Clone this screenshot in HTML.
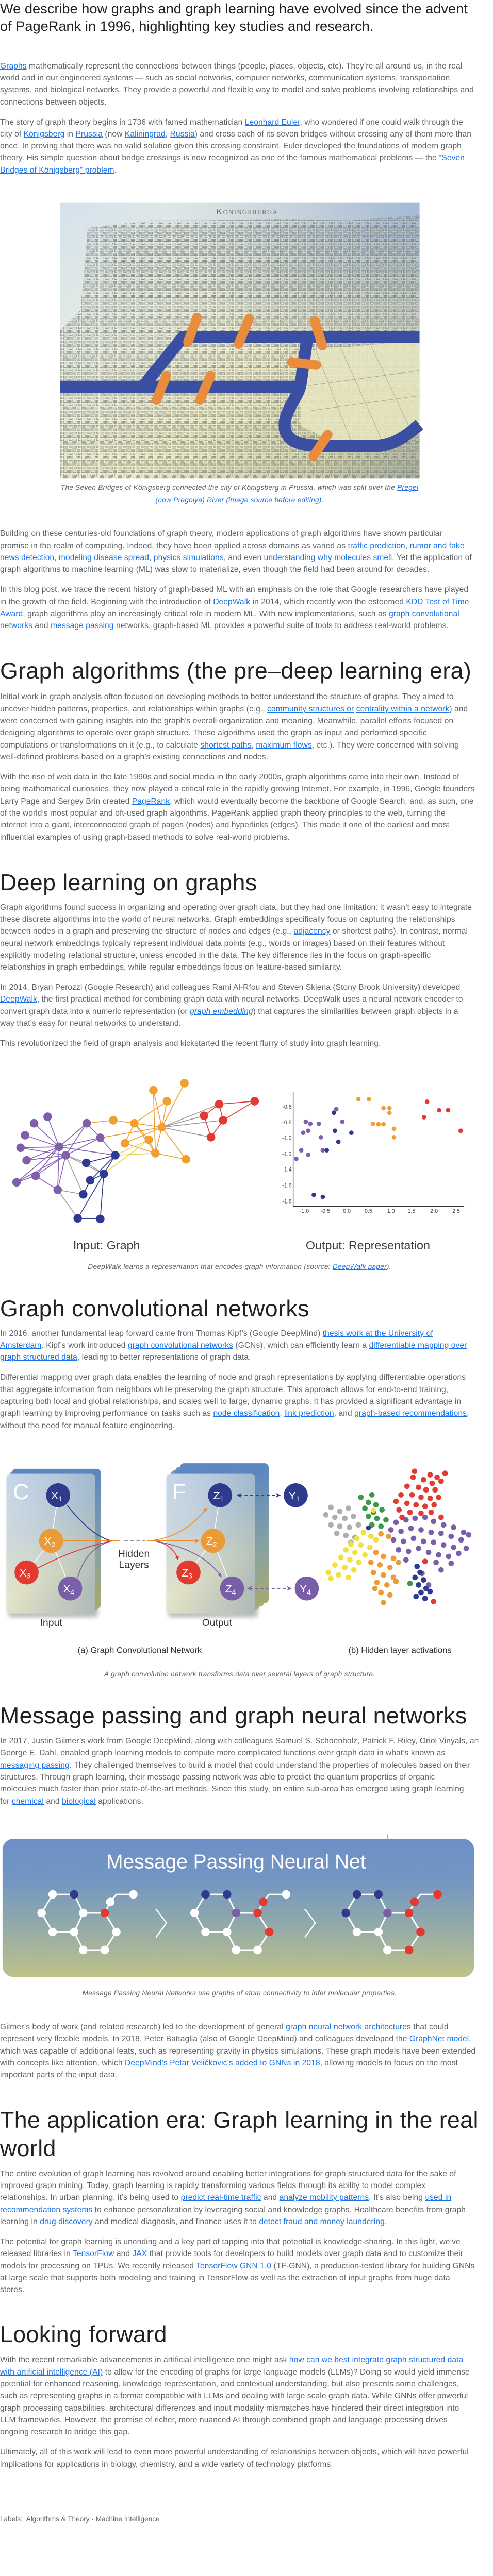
<!DOCTYPE html>
<html><head><meta charset="utf-8">
<style>
html,body{margin:0;padding:0;background:#fff;}
#wrap{position:relative;width:956px;height:5076px;overflow:hidden;background:#fff;font-family:"Liberation Sans",Arial,sans-serif;zoom:0.972;}
.t{position:absolute;left:0;width:956px;overflow:hidden;white-space:nowrap;}
.ti{font-size:28px;line-height:35px;color:#202124;}
.p{font-size:16px;line-height:24px;color:#5f6368;letter-spacing:0.1px;}
.p a,.cap a{color:#1a73e8;text-decoration:underline;}
.h{font-size:46px;line-height:56px;color:#202124;letter-spacing:0.4px;}
.cap{font-size:14px;line-height:25px;font-style:italic;color:#5f6368;text-align:center;letter-spacing:0.3px;}
.lab{font-size:14px;line-height:20px;color:#5f6368;}
.lab a{color:#5f6368;text-decoration:underline;}
svg.bg{position:absolute;left:0;top:0;display:block;}
</style></head>
<body>
<div id="wrap">
<svg class="bg" width="956" height="5076" viewBox="0 0 956 5076" font-family="Liberation Sans, Arial, sans-serif">
<defs>
<linearGradient id="mapbg" x1="0" y1="0" x2="1" y2="1">
<stop offset="0" stop-color="#d5e2ee"/><stop offset="0.35" stop-color="#e9eddf"/><stop offset="0.6" stop-color="#efecc9"/><stop offset="0.85" stop-color="#d2d2ad"/><stop offset="1" stop-color="#aab3aa"/>
</linearGradient>
<radialGradient id="mapblue" cx="1" cy="0" r="0.7">
<stop offset="0" stop-color="#9fb6d8" stop-opacity="0.95"/><stop offset="1" stop-color="#9fb6d8" stop-opacity="0"/>
</radialGradient>
<pattern id="tx" width="18" height="14" patternUnits="userSpaceOnUse">
<rect x="1" y="1" width="7" height="5" fill="none" stroke="#767a6e" stroke-width="0.9"/>
<path d="M2,3h5M10,2h6v4h-6zM11,4h4M1,9h8v4h-8zM3,11h4M11,9h6M12,12h5M13,8v5" stroke="#767a6e" stroke-width="0.9" fill="none"/>
</pattern>
<linearGradient id="card" x1="0" y1="0" x2="0.35" y2="1">
<stop offset="0" stop-color="#b3c9e4"/><stop offset="0.45" stop-color="#bfcdd0"/><stop offset="0.8" stop-color="#dcdcb6"/><stop offset="1" stop-color="#cfd0b0"/>
</linearGradient>
<linearGradient id="cardr" x1="0" y1="0" x2="1" y2="0">
<stop offset="0" stop-color="#ffffff" stop-opacity="0.25"/><stop offset="1" stop-color="#6f92c4" stop-opacity="0.35"/>
</linearGradient>
<linearGradient id="back" x1="0" y1="0" x2="0" y2="1">
<stop offset="0" stop-color="#5a87c2"/><stop offset="0.6" stop-color="#8aa3a0"/><stop offset="1" stop-color="#a5aa6c"/>
</linearGradient>
<linearGradient id="mp" x1="0" y1="0" x2="0" y2="1">
<stop offset="0" stop-color="#6e8fc6"/><stop offset="0.3" stop-color="#7396c2"/><stop offset="0.6" stop-color="#8fa8ac"/><stop offset="1" stop-color="#bfc288"/>
</linearGradient>
<filter id="sh" x="-10%" y="-10%" width="120%" height="125%"><feGaussianBlur stdDeviation="4"/></filter>
<marker id="ao" markerWidth="8" markerHeight="8" refX="6" refY="4" orient="auto" markerUnits="userSpaceOnUse"><path d="M0,0L8,4L0,8z" fill="#ef8a2e"/></marker>
<marker id="ar" markerWidth="8" markerHeight="8" refX="6" refY="4" orient="auto" markerUnits="userSpaceOnUse"><path d="M0,0L8,4L0,8z" fill="#e23a2f"/></marker>
<marker id="ap" markerWidth="8" markerHeight="8" refX="6" refY="4" orient="auto" markerUnits="userSpaceOnUse"><path d="M0,0L8,4L0,8z" fill="#7b5ea8"/></marker>
<marker id="an" markerWidth="10" markerHeight="10" refX="5" refY="5" orient="auto-start-reverse" markerUnits="userSpaceOnUse"><path d="M0,0L10,5L0,10L3,5z" fill="#2e3a8c"/></marker>
<marker id="ap2" markerWidth="10" markerHeight="10" refX="5" refY="5" orient="auto-start-reverse" markerUnits="userSpaceOnUse"><path d="M0,0L10,5L0,10L3,5z" fill="#7b5ea8"/></marker>
</defs>

<!-- ============ MAP ============ -->
<rect x="120" y="405" width="717" height="550" fill="url(#mapbg)"/>
<rect x="120" y="405" width="717" height="550" fill="url(#mapblue)"/>
<path d="M175,455 L300,440 L400,440 L560,438 L700,440 L837,430 L837,955 L120,955 L120,660 L160,620 L170,520 Z" fill="url(#tx)" opacity="0.75"/>
<path d="M225,470 L330,455 L560,450 L837,445 L837,600 L225,600 Z" fill="url(#tx)" opacity="0.35"/>
<path d="M610,700 L837,680 L837,850 L760,880 L660,880 L600,850 L598,760 Z" fill="#e9e7c2" opacity="0.85"/>
<path d="M630,700 L700,880 M680,695 L760,875 M740,690 L820,860 M615,770 L837,740 M620,820 L837,790" stroke="#8d907f" stroke-width="1" fill="none" opacity="0.7"/>
<text x="493" y="428" font-family="Liberation Serif, serif" font-size="17" fill="#6c706a" text-anchor="middle" letter-spacing="1.5">K<tspan font-size="13">ONINGSBERGA</tspan></text>
<g fill="none" stroke="#3a4fa1" stroke-width="24" stroke-linejoin="miter">
<path d="M120,772 L285,772 L365,673 L837,673"/>
<path d="M285,772 L603,772"/>
<path d="M614,668 L599,772 C590,800 562,828 569,860 C578,890 620,891 660,891 L745,891 C785,891 810,870 837,848"/>
</g>
<g stroke="#e98d3c" stroke-width="19" stroke-linecap="round">
<line x1="393" y1="634" x2="375" y2="683"/>
<line x1="497" y1="636" x2="476" y2="687"/>
<line x1="628" y1="641" x2="643" y2="690"/>
<line x1="582" y1="723" x2="631" y2="729"/>
<line x1="332" y1="750" x2="312" y2="799"/>
<line x1="420" y1="750" x2="399" y2="799"/>
<line x1="654" y1="868" x2="625" y2="911"/>
</g>

<!-- ============ DEEPWALK GRAPH ============ -->
<g stroke-width="1.7" fill="none">
<g stroke="#f0a032">
<line x1="226" y1="2237" x2="173" y2="2243"/><line x1="226" y1="2237" x2="268" y2="2243"/><line x1="268" y1="2243" x2="323" y2="2251"/>
<line x1="306" y1="2177" x2="323" y2="2251"/><line x1="306" y1="2177" x2="310" y2="2303"/><line x1="333" y1="2199" x2="268" y2="2243"/><line x1="333" y1="2199" x2="323" y2="2251"/>
<line x1="368" y1="2163" x2="323" y2="2251"/><line x1="323" y1="2251" x2="200" y2="2272"/><line x1="323" y1="2251" x2="249" y2="2283"/>
<line x1="323" y1="2251" x2="310" y2="2303"/><line x1="323" y1="2251" x2="371" y2="2315"/><line x1="268" y1="2243" x2="249" y2="2283"/>
<line x1="268" y1="2243" x2="297" y2="2276"/><line x1="268" y1="2243" x2="310" y2="2303"/><line x1="249" y1="2283" x2="310" y2="2303"/><line x1="297" y1="2276" x2="310" y2="2303"/><line x1="310" y1="2303" x2="371" y2="2315"/>
</g>
<g stroke="#9c9c9c">
<line x1="323" y1="2251" x2="437" y2="2205"/><line x1="323" y1="2251" x2="407" y2="2228"/><line x1="323" y1="2251" x2="445" y2="2237"/><line x1="323" y1="2251" x2="421" y2="2271"/>
<line x1="131" y1="2307" x2="172" y2="2322"/><line x1="131" y1="2307" x2="207" y2="2344"/><line x1="131" y1="2307" x2="166" y2="2385"/>
<line x1="115" y1="2376" x2="166" y2="2385"/><line x1="115" y1="2376" x2="155" y2="2433"/><line x1="172" y1="2322" x2="207" y2="2344"/>
</g>
<g stroke="#e03a32">
<line x1="437" y1="2205" x2="508" y2="2199"/><line x1="508" y1="2199" x2="445" y2="2237"/><line x1="445" y1="2237" x2="421" y2="2271"/>
<line x1="407" y1="2228" x2="421" y2="2271"/><line x1="437" y1="2205" x2="407" y2="2228"/><line x1="437" y1="2205" x2="445" y2="2237"/>
</g>
<g stroke="#e3d35a">
<line x1="230" y1="2307" x2="310" y2="2303"/><line x1="230" y1="2307" x2="297" y2="2276"/><line x1="207" y1="2344" x2="297" y2="2276"/>
</g>
<g stroke="#8663b5">
<line x1="118" y1="2290" x2="95" y2="2230"/><line x1="118" y1="2290" x2="68" y2="2243"/><line x1="118" y1="2290" x2="50" y2="2267"/><line x1="118" y1="2290" x2="41" y2="2292"/>
<line x1="118" y1="2290" x2="53" y2="2317"/><line x1="118" y1="2290" x2="173" y2="2243"/><line x1="118" y1="2290" x2="200" y2="2272"/><line x1="118" y1="2290" x2="230" y2="2307"/>
<line x1="118" y1="2290" x2="71" y2="2348"/><line x1="118" y1="2290" x2="115" y2="2376"/><line x1="118" y1="2290" x2="33" y2="2361"/>
<line x1="131" y1="2307" x2="41" y2="2292"/><line x1="131" y1="2307" x2="53" y2="2317"/><line x1="131" y1="2307" x2="173" y2="2243"/><line x1="131" y1="2307" x2="200" y2="2272"/>
<line x1="131" y1="2307" x2="71" y2="2348"/><line x1="131" y1="2307" x2="33" y2="2361"/><line x1="131" y1="2307" x2="115" y2="2376"/>
<line x1="173" y1="2243" x2="200" y2="2272"/><line x1="200" y1="2272" x2="230" y2="2307"/><line x1="33" y1="2361" x2="71" y2="2348"/><line x1="71" y1="2348" x2="115" y2="2376"/>
</g>
<g stroke="#2e3a90">
<line x1="230" y1="2307" x2="172" y2="2322"/><line x1="230" y1="2307" x2="207" y2="2344"/><line x1="230" y1="2307" x2="180" y2="2357"/>
<line x1="207" y1="2344" x2="180" y2="2357"/><line x1="180" y1="2357" x2="166" y2="2385"/><line x1="207" y1="2344" x2="155" y2="2433"/>
<line x1="207" y1="2344" x2="200" y2="2434"/><line x1="155" y1="2433" x2="200" y2="2434"/>
</g>
</g>
<g fill="#f0a032">
<circle cx="368" cy="2163" r="8.5"/><circle cx="306" cy="2177" r="8.5"/><circle cx="333" cy="2199" r="8.5"/><circle cx="226" cy="2237" r="8.5"/><circle cx="268" cy="2243" r="8.5"/>
<circle cx="323" cy="2251" r="8.5"/><circle cx="297" cy="2276" r="8.5"/><circle cx="249" cy="2283" r="8.5"/><circle cx="310" cy="2303" r="8.5"/><circle cx="371" cy="2315" r="8.5"/>
</g>
<g fill="#e03a32">
<circle cx="508" cy="2199" r="8.5"/><circle cx="437" cy="2205" r="8.5"/><circle cx="407" cy="2228" r="8.5"/><circle cx="445" cy="2237" r="8.5"/><circle cx="421" cy="2271" r="8.5"/>
</g>
<g fill="#7f5fab">
<circle cx="95" cy="2230" r="8.5"/><circle cx="68" cy="2243" r="8.5"/><circle cx="173" cy="2243" r="8.5"/><circle cx="50" cy="2267" r="8.5"/><circle cx="200" cy="2272" r="8.5"/>
<circle cx="118" cy="2290" r="8.5"/><circle cx="41" cy="2292" r="8.5"/><circle cx="131" cy="2307" r="8.5"/><circle cx="53" cy="2317" r="8.5"/><circle cx="71" cy="2348" r="8.5"/>
<circle cx="33" cy="2361" r="8.5"/><circle cx="115" cy="2376" r="8.5"/>
</g>
<g fill="#2e3a90">
<circle cx="230" cy="2307" r="8.5"/><circle cx="172" cy="2322" r="8.5"/><circle cx="207" cy="2344" r="8.5"/><circle cx="180" cy="2357" r="8.5"/>
<circle cx="166" cy="2385" r="8.5"/><circle cx="155" cy="2433" r="8.5"/><circle cx="200" cy="2434" r="8.5"/>
</g>

<!-- scatter -->
<path d="M585,2180 L585,2409 L926,2409" stroke="#333" stroke-width="1.4" fill="none"/>
<g font-size="11" fill="#444" text-anchor="end">
<text x="582" y="2214">-0.6</text><text x="582" y="2245">-0.8</text><text x="582" y="2276">-1.0</text><text x="582" y="2308">-1.2</text>
<text x="582" y="2339">-1.4</text><text x="582" y="2371">-1.6</text><text x="582" y="2403">-1.8</text>
</g>
<g font-size="11" fill="#444" text-anchor="middle">
<text x="607" y="2422">-1.0</text><text x="649" y="2422">-0.5</text><text x="692" y="2422">0.0</text><text x="735" y="2422">0.5</text>
<text x="780" y="2422">1.0</text><text x="821" y="2422">1.5</text><text x="866" y="2422">2.0</text><text x="910" y="2422">2.5</text>
</g>
<g fill="#f0a032">
<circle cx="715" cy="2195" r="4.5"/><circle cx="736" cy="2195" r="4.5"/><circle cx="765" cy="2213" r="4.5"/><circle cx="777" cy="2213" r="4.5"/><circle cx="777" cy="2222" r="4.5"/>
<circle cx="744" cy="2244" r="4.5"/><circle cx="755" cy="2245" r="4.5"/><circle cx="765" cy="2245" r="4.5"/><circle cx="786" cy="2254" r="4.5"/><circle cx="786" cy="2271" r="4.5"/>
</g>
<g fill="#e03a32">
<circle cx="852" cy="2200" r="4.5"/><circle cx="876" cy="2217" r="4.5"/><circle cx="894" cy="2217" r="4.5"/><circle cx="846" cy="2231" r="4.5"/><circle cx="919" cy="2258" r="4.5"/>
</g>
<g fill="#7f5fab">
<circle cx="671" cy="2215" r="4.5"/><circle cx="610" cy="2240" r="4.5"/><circle cx="619" cy="2244" r="4.5"/><circle cx="636" cy="2244" r="4.5"/><circle cx="683" cy="2240" r="4.5"/>
<circle cx="615" cy="2258" r="4.5"/><circle cx="605" cy="2262" r="4.5"/><circle cx="640" cy="2271" r="4.5"/><circle cx="601" cy="2297" r="4.5"/><circle cx="644" cy="2297" r="4.5"/>
<circle cx="615" cy="2306" r="4.5"/><circle cx="591" cy="2314" r="4.5"/>
</g>
<g fill="#2e3a90">
<circle cx="666" cy="2222" r="4.5"/><circle cx="668" cy="2258" r="4.5"/><circle cx="701" cy="2262" r="4.5"/><circle cx="675" cy="2280" r="4.5"/><circle cx="652" cy="2297" r="4.5"/>
<circle cx="626" cy="2386" r="4.5"/><circle cx="644" cy="2390" r="4.5"/>
</g>
<g font-size="24" fill="#3c4043">
<text x="146" y="2495">Input: Graph</text>
<text x="610" y="2495">Output: Representation</text>
</g>

<!-- ============ GCN FIGURE ============ -->
<rect x="16" y="2948" width="180" height="282" rx="8" fill="#000" opacity="0.25" filter="url(#sh)"/>
<rect x="24" y="2933" width="177" height="279" rx="8" fill="url(#back)"/>
<rect x="19" y="2938" width="177" height="279" rx="8" fill="url(#back)" opacity="0.9"/>
<rect x="13" y="2943" width="177" height="279" rx="8" fill="url(#card)"/>
<rect x="13" y="2943" width="177" height="279" rx="8" fill="url(#cardr)"/>
<rect x="335" y="2948" width="180" height="282" rx="8" fill="#000" opacity="0.25" filter="url(#sh)"/>
<rect x="359" y="2922" width="177" height="279" rx="8" fill="url(#back)"/>
<rect x="350" y="2929" width="177" height="279" rx="8" fill="url(#back)" opacity="0.9"/>
<rect x="341" y="2936" width="177" height="279" rx="8" fill="url(#back)" opacity="0.85"/>
<rect x="332" y="2943" width="177" height="279" rx="8" fill="url(#card)"/>
<rect x="332" y="2943" width="177" height="279" rx="8" fill="url(#cardr)"/>
<text x="26" y="2994" font-size="44" fill="#fff">C</text>
<text x="344" y="2994" font-size="44" fill="#fff">F</text>
<g stroke="#fff" stroke-width="1.6">
<line x1="116" y1="2986" x2="102" y2="3077"/><line x1="102" y1="3077" x2="53" y2="3140"/><line x1="102" y1="3077" x2="140" y2="3172"/>
<line x1="439" y1="2986" x2="425" y2="3077"/><line x1="425" y1="3077" x2="376" y2="3140"/><line x1="425" y1="3077" x2="463" y2="3172"/>
</g>
<g fill="none" stroke-width="1.8">
<path d="M134,3006 Q185,3070 224,3077" stroke="#2e3a8c"/>
<path d="M126,3077 L240,3077" stroke="#ef8a2e" stroke-width="2.2"/>
<path d="M76,3131 Q150,3092 224,3077" stroke="#e23a2f"/>
<path d="M155,3150 Q172,3090 224,3077" stroke="#7b5ea8"/>
<path d="M248,3077 L290,3077" stroke="#999" stroke-dasharray="7,5" stroke-width="2"/>
<path d="M295,3077 Q365,3072 412,3012" stroke="#ef8a2e" marker-end="url(#ao)"/>
<path d="M293,3077 L396,3077" stroke="#ef8a2e" stroke-width="2.2" marker-end="url(#ao)"/>
<path d="M312,3078 Q345,3085 355,3114" stroke="#e23a2f" marker-end="url(#ar)"/>
<path d="M312,3078 Q405,3095 441,3148" stroke="#7b5ea8" marker-end="url(#ap)"/>
<path d="M477,2986 L555,2986" stroke="#2e3a8c" stroke-dasharray="6,5" stroke-width="2" marker-start="url(#an)" marker-end="url(#an)"/>
<path d="M498,3172 L577,3172" stroke="#7b5ea8" stroke-dasharray="6,5" stroke-width="2" marker-start="url(#ap2)" marker-end="url(#ap2)"/>
</g>
<g font-size="22" fill="#fff" text-anchor="middle">
<circle cx="116" cy="2986" r="24" fill="#2e3a8c"/><text x="113" y="2994">X<tspan font-size="14" dy="4">1</tspan></text>
<circle cx="102" cy="3077" r="24" fill="#eb9a35"/><text x="99" y="3085">X<tspan font-size="14" dy="4">2</tspan></text>
<circle cx="53" cy="3140" r="24" fill="#e23a2f"/><text x="50" y="3148">X<tspan font-size="14" dy="4">3</tspan></text>
<circle cx="140" cy="3172" r="24" fill="#7b5ea8"/><text x="137" y="3180">X<tspan font-size="14" dy="4">4</tspan></text>
<circle cx="439" cy="2986" r="24" fill="#2e3a8c"/><text x="436" y="2994">Z<tspan font-size="14" dy="4">1</tspan></text>
<circle cx="425" cy="3077" r="24" fill="#eb9a35"/><text x="422" y="3085">Z<tspan font-size="14" dy="4">2</tspan></text>
<circle cx="376" cy="3140" r="24" fill="#e23a2f"/><text x="373" y="3148">Z<tspan font-size="14" dy="4">3</tspan></text>
<circle cx="463" cy="3172" r="24" fill="#7b5ea8"/><text x="460" y="3180">Z<tspan font-size="14" dy="4">4</tspan></text>
<circle cx="590" cy="2986" r="24" fill="#2e3a8c"/><text x="587" y="2994">Y<tspan font-size="14" dy="4">1</tspan></text>
<circle cx="612" cy="3172" r="24" fill="#7b5ea8"/><text x="609" y="3180">Y<tspan font-size="14" dy="4">4</tspan></text>
</g>
<g font-size="20" fill="#333" text-anchor="middle">
<text x="267" y="3109">Hidden</text><text x="267" y="3131">Layers</text>
<text x="102" y="3247">Input</text><text x="433" y="3247">Output</text>
</g>
<g font-size="17" fill="#333">
<text x="155" y="3301">(a) Graph Convolutional Network</text>
<text x="695" y="3301">(b) Hidden layer activations</text>
</g>
<!-- activations scatter -->
<g fill="#e33b30">
<circle cx="827" cy="2938" r="5.5"/><circle cx="858" cy="2945" r="5.5"/><circle cx="872" cy="2950" r="5.5"/><circle cx="845" cy="2955" r="5.5"/><circle cx="862" cy="2962" r="5.5"/>
<circle cx="880" cy="2958" r="5.5"/><circle cx="812" cy="2968" r="5.5"/><circle cx="835" cy="2970" r="5.5"/><circle cx="850" cy="2975" r="5.5"/><circle cx="868" cy="2975" r="5.5"/>
<circle cx="800" cy="2985" r="5.5"/><circle cx="822" cy="2985" r="5.5"/><circle cx="840" cy="2990" r="5.5"/><circle cx="858" cy="2992" r="5.5"/><circle cx="875" cy="2990" r="5.5"/>
<circle cx="790" cy="2998" r="5.5"/><circle cx="812" cy="3002" r="5.5"/><circle cx="830" cy="3005" r="5.5"/><circle cx="848" cy="3008" r="5.5"/><circle cx="866" cy="3005" r="5.5"/>
<circle cx="796" cy="3015" r="5.5"/><circle cx="818" cy="3020" r="5.5"/><circle cx="840" cy="3022" r="5.5"/><circle cx="860" cy="3020" r="5.5"/><circle cx="880" cy="3030" r="5.5"/>
<circle cx="802" cy="3030" r="5.5"/><circle cx="848" cy="3118" r="5.5"/><circle cx="865" cy="3198" r="5.5"/><circle cx="888" cy="2942" r="5.5"/><circle cx="824" cy="2950" r="5.5"/>
</g>
<g fill="#3a9a4a">
<circle cx="720" cy="2990" r="5.5"/><circle cx="742" cy="2985" r="5.5"/><circle cx="735" cy="3000" r="5.5"/><circle cx="750" cy="3005" r="5.5"/><circle cx="728" cy="3012" r="5.5"/>
<circle cx="745" cy="3020" r="5.5"/><circle cx="762" cy="3015" r="5.5"/><circle cx="735" cy="3028" r="5.5"/><circle cx="752" cy="3032" r="5.5"/><circle cx="770" cy="3035" r="5.5"/>
<circle cx="742" cy="3045" r="5.5"/><circle cx="760" cy="3048" r="5.5"/><circle cx="818" cy="3162" r="5.5"/>
</g>
<circle cx="745" cy="3016" r="5" fill="#f5df3a"/>
<g fill="#aeaeae">
<circle cx="660" cy="3010" r="5.5"/><circle cx="678" cy="3018" r="5.5"/><circle cx="695" cy="3012" r="5.5"/><circle cx="650" cy="3025" r="5.5"/><circle cx="668" cy="3030" r="5.5"/>
<circle cx="688" cy="3032" r="5.5"/><circle cx="705" cy="3028" r="5.5"/><circle cx="660" cy="3045" r="5.5"/><circle cx="678" cy="3048" r="5.5"/><circle cx="697" cy="3050" r="5.5"/>
<circle cx="715" cy="3045" r="5.5"/><circle cx="672" cy="3062" r="5.5"/><circle cx="690" cy="3066" r="5.5"/><circle cx="708" cy="3070" r="5.5"/><circle cx="700" cy="3080" r="5.5"/>
</g>
<g fill="#7b5ea8">
<circle cx="790" cy="3040" r="5.5"/><circle cx="810" cy="3035" r="5.5"/><circle cx="828" cy="3032" r="5.5"/><circle cx="848" cy="3030" r="5.5"/><circle cx="865" cy="3038" r="5.5"/>
<circle cx="885" cy="3045" r="5.5"/><circle cx="905" cy="3050" r="5.5"/><circle cx="925" cy="3060" r="5.5"/><circle cx="780" cy="3055" r="5.5"/><circle cx="800" cy="3058" r="5.5"/>
<circle cx="820" cy="3052" r="5.5"/><circle cx="840" cy="3055" r="5.5"/><circle cx="860" cy="3060" r="5.5"/><circle cx="880" cy="3062" r="5.5"/><circle cx="900" cy="3068" r="5.5"/>
<circle cx="920" cy="3075" r="5.5"/><circle cx="935" cy="3065" r="5.5"/><circle cx="785" cy="3075" r="5.5"/><circle cx="805" cy="3078" r="5.5"/><circle cx="825" cy="3072" r="5.5"/>
<circle cx="845" cy="3078" r="5.5"/><circle cx="865" cy="3080" r="5.5"/><circle cx="885" cy="3085" r="5.5"/><circle cx="905" cy="3090" r="5.5"/><circle cx="930" cy="3092" r="5.5"/>
<circle cx="795" cy="3095" r="5.5"/><circle cx="815" cy="3098" r="5.5"/><circle cx="835" cy="3092" r="5.5"/><circle cx="855" cy="3100" r="5.5"/><circle cx="875" cy="3105" r="5.5"/>
<circle cx="895" cy="3108" r="5.5"/><circle cx="915" cy="3102" r="5.5"/><circle cx="810" cy="3115" r="5.5"/><circle cx="870" cy="3120" r="5.5"/><circle cx="900" cy="3122" r="5.5"/>
<circle cx="880" cy="3135" r="5.5"/><circle cx="842" cy="3142" r="5.5"/><circle cx="855" cy="3165" r="5.5"/>
</g>
<g fill="#f5df3a">
<circle cx="725" cy="3060" r="5.5"/><circle cx="740" cy="3068" r="5.5"/><circle cx="712" cy="3072" r="5.5"/><circle cx="700" cy="3084" r="5.5"/><circle cx="720" cy="3085" r="5.5"/>
<circle cx="738" cy="3090" r="5.5"/><circle cx="690" cy="3095" r="5.5"/><circle cx="708" cy="3100" r="5.5"/><circle cx="728" cy="3105" r="5.5"/><circle cx="680" cy="3110" r="5.5"/>
<circle cx="698" cy="3115" r="5.5"/><circle cx="716" cy="3120" r="5.5"/><circle cx="668" cy="3125" r="5.5"/><circle cx="688" cy="3130" r="5.5"/><circle cx="706" cy="3135" r="5.5"/>
<circle cx="655" cy="3140" r="5.5"/><circle cx="675" cy="3145" r="5.5"/><circle cx="695" cy="3150" r="5.5"/><circle cx="660" cy="3152" r="5.5"/><circle cx="750" cy="3075" r="5.5"/>
</g>
<g fill="#ef9a35">
<circle cx="760" cy="3063" r="5.5"/><circle cx="775" cy="3068" r="5.5"/><circle cx="750" cy="3100" r="5.5"/><circle cx="765" cy="3108" r="5.5"/><circle cx="785" cy="3112" r="5.5"/>
<circle cx="740" cy="3120" r="5.5"/><circle cx="758" cy="3125" r="5.5"/><circle cx="778" cy="3130" r="5.5"/><circle cx="795" cy="3120" r="5.5"/><circle cx="745" cy="3140" r="5.5"/>
<circle cx="765" cy="3145" r="5.5"/><circle cx="785" cy="3150" r="5.5"/><circle cx="752" cy="3160" r="5.5"/><circle cx="772" cy="3165" r="5.5"/><circle cx="790" cy="3158" r="5.5"/>
<circle cx="760" cy="3180" r="5.5"/><circle cx="778" cy="3185" r="5.5"/><circle cx="765" cy="3200" r="5.5"/><circle cx="748" cy="3172" r="5.5"/>
</g>
<g fill="#2e3a90">
<circle cx="832" cy="3128" r="5.5"/><circle cx="838" cy="3140" r="5.5"/><circle cx="828" cy="3150" r="5.5"/><circle cx="845" cy="3155" r="5.5"/><circle cx="835" cy="3165" r="5.5"/>
<circle cx="850" cy="3172" r="5.5"/><circle cx="840" cy="3180" r="5.5"/><circle cx="858" cy="3178" r="5.5"/><circle cx="830" cy="3188" r="5.5"/><circle cx="848" cy="3192" r="5.5"/><circle cx="735" cy="3051" r="5"/>
</g>

<!-- ============ MPNN FIGURE ============ -->
<line x1="773" y1="3663" x2="773" y2="3673" stroke="#aaa" stroke-width="2"/>
<rect x="5" y="3672" width="941" height="276" rx="22" fill="url(#mp)"/>
<text x="471" y="3731" font-size="40" fill="#fff" text-anchor="middle">Message Passing Neural Net</text>
<g stroke="#fff" stroke-width="2.5" fill="none">
<polyline points="311,3812 332,3840 311,3869"/>
<polyline points="608,3812 629,3840 608,3869"/>
</g>
<g stroke="#fff" stroke-width="3" fill="none">
<path d="M105,3783 L148,3783 L166,3820 L148,3858 L105,3858 L83,3820 Z"/>
<path d="M166,3820 L209,3820 L232,3858 L209,3894 L166,3894 L148,3858"/>
<path d="M209,3820 L220,3798 L232,3783 L266,3783"/>
<path d="M410,3783 L453,3783 L471,3820 L453,3858 L410,3858 L388,3820 Z"/>
<path d="M471,3820 L514,3820 L537,3858 L514,3894 L471,3894 L453,3858"/>
<path d="M514,3820 L525,3798 L537,3783 L571,3783"/>
<path d="M712,3783 L755,3783 L773,3820 L755,3858 L712,3858 L690,3820 Z"/>
<path d="M773,3820 L816,3820 L839,3858 L816,3894 L773,3894 L755,3858"/>
<path d="M816,3820 L827,3798 L839,3783 L873,3783"/>
</g>
<g>
<circle cx="105" cy="3783" r="8.5" fill="#fff"/><circle cx="148" cy="3783" r="8.5" fill="#2e3a8c"/><circle cx="83" cy="3820" r="8.5" fill="#fff"/>
<circle cx="166" cy="3820" r="8.5" fill="#fff"/><circle cx="209" cy="3820" r="8.5" fill="#e23a2f"/><circle cx="105" cy="3858" r="8.5" fill="#fff"/>
<circle cx="148" cy="3858" r="8.5" fill="#fff"/><circle cx="232" cy="3858" r="8.5" fill="#fff"/><circle cx="166" cy="3894" r="8.5" fill="#fff"/>
<circle cx="209" cy="3894" r="8.5" fill="#fff"/><circle cx="220" cy="3798" r="8.5" fill="#fff"/><circle cx="266" cy="3783" r="8.5" fill="#fff"/>
</g>
<g transform="translate(305,0)">
<circle cx="105" cy="3783" r="8.5" fill="#2e3a8c"/><circle cx="148" cy="3783" r="8.5" fill="#2e3a8c"/><circle cx="83" cy="3820" r="8.5" fill="#fff"/>
<circle cx="166" cy="3820" r="8.5" fill="#7b5ea8"/><circle cx="209" cy="3820" r="8.5" fill="#e23a2f"/><circle cx="105" cy="3858" r="8.5" fill="#fff"/>
<circle cx="148" cy="3858" r="8.5" fill="#fff"/><circle cx="232" cy="3858" r="8.5" fill="#e23a2f"/><circle cx="166" cy="3894" r="8.5" fill="#fff"/>
<circle cx="209" cy="3894" r="8.5" fill="#fff"/><circle cx="220" cy="3798" r="8.5" fill="#e23a2f"/><circle cx="266" cy="3783" r="8.5" fill="#fff"/>
</g>
<g transform="translate(607,0)">
<circle cx="105" cy="3783" r="8.5" fill="#2e3a8c"/><circle cx="148" cy="3783" r="8.5" fill="#2e3a8c"/><circle cx="83" cy="3820" r="8.5" fill="#2e3a8c"/>
<circle cx="166" cy="3820" r="8.5" fill="#7b5ea8"/><circle cx="209" cy="3820" r="8.5" fill="#e23a2f"/><circle cx="105" cy="3858" r="8.5" fill="#fff"/>
<circle cx="148" cy="3858" r="8.5" fill="#fff"/><circle cx="232" cy="3858" r="8.5" fill="#e23a2f"/><circle cx="166" cy="3894" r="8.5" fill="#fff"/>
<circle cx="209" cy="3894" r="8.5" fill="#e23a2f"/><circle cx="220" cy="3798" r="8.5" fill="#e23a2f"/><circle cx="266" cy="3783" r="8.5" fill="#e23a2f"/>
</g>
</svg>

<!-- ============ TEXT ============ -->
<div class="t ti" style="top:0px">We describe how graphs and graph learning have evolved since the advent<br>of PageRank in 1996, highlighting key studies and research.</div>

<div class="t p" style="top:120px"><a>Graphs</a> mathematically represent the connections between things (people, places, objects, etc). They’re all around us, in the real<br>world and in our engineered systems — such as social networks, computer networks, communication systems, transportation<br>systems, and biological networks. They provide a powerful and flexible way to model and solve problems involving relationships and<br>connections between objects.</div>

<div class="t p" style="top:232px">The story of graph theory begins in 1736 with famed mathematician <a>Leonhard Euler</a>, who wondered if one could walk through the<br>city of <a>Königsberg</a> in <a>Prussia</a> (now <a>Kaliningrad</a>, <a>Russia</a>) and cross each of its seven bridges without crossing any of them more than<br>once. In proving that there was no valid solution given this crossing constraint, Euler developed the foundations of modern graph<br>theory. His simple question about bridge crossings is now recognized as one of the famous mathematical problems — the “<a>Seven</a><br><a>Bridges of Königsberg” problem</a>.</div>

<div class="t cap" style="top:962px">The Seven Bridges of Königsberg connected the city of Königsberg in Prussia, which was split over the <a>Pregel</a><br><a>(now Pregolya) River (image source before editing)</a>.</div>

<div class="t p" style="top:1054px">Building on these centuries-old foundations of graph theory, modern applications of graph algorithms have shown particular<br>promise in the realm of computing. Indeed, they have been applied across domains as varied as <a>traffic prediction</a>, <a>rumor and fake</a><br><a>news detection</a>, <a>modeling disease spread</a>, <a>physics simulations</a>, and even <a>understanding why molecules smell</a>. Yet the application of<br>graph algorithms to machine learning (ML) was slow to materialize, even though the field had been around for decades.</div>

<div class="t p" style="top:1166px">In this blog post, we trace the recent history of graph-based ML with an emphasis on the role that Google researchers have played<br>in the growth of the field. Beginning with the introduction of <a>DeepWalk</a> in 2014, which recently won the esteemed <a>KDD Test of Time</a><br><a>Award</a>, graph algorithms play an increasingly critical role in modern ML. With new implementations, such as <a>graph convolutional</a><br><a>networks</a> and <a>message passing</a> networks, graph-based ML provides a powerful suite of tools to address real-world problems.</div>

<div class="t h" style="top:1313px">Graph algorithms (the pre–deep learning era)</div>

<div class="t p" style="top:1380px">Initial work in graph analysis often focused on developing methods to better understand the structure of graphs. They aimed to<br>uncover hidden patterns, properties, and relationships within graphs (e.g., <a>community structures or</a> <a>centrality within a network</a>) and<br>were concerned with gaining insights into the graph's overall organization and meaning. Meanwhile, parallel efforts focused on<br>designing algorithms to operate over graph structure. These algorithms used the graph as input and performed specific<br>computations or transformations on it (e.g., to calculate <a>shortest paths</a>, <a>maximum flows</a>, etc.). They were concerned with solving<br>well-defined problems based on a graph’s existing connections and nodes.</div>

<div class="t p" style="top:1540px">With the rise of web data in the late 1990s and social media in the early 2000s, graph algorithms came into their own. Instead of<br>being mathematical curiosities, they now played a critical role in the rapidly growing Internet. For example, in 1996, Google founders<br>Larry Page and Sergey Brin created <a>PageRank</a>, which would eventually become the backbone of Google Search, and, as such, one<br>of the world’s most popular and oft-used graph algorithms. PageRank applied graph theory principles to the web, turning the<br>internet into a giant, interconnected graph of pages (nodes) and hyperlinks (edges). This made it one of the earliest and most<br>influential examples of using graph-based methods to solve real-world problems.</div>

<div class="t h" style="top:1736px">Deep learning on graphs</div>

<div class="t p" style="top:1800px">Graph algorithms found success in organizing and operating over graph data, but they had one limitation: it wasn’t easy to integrate<br>these discrete algorithms into the world of neural networks. Graph embeddings specifically focus on capturing the relationships<br>between nodes in a graph and preserving the structure of nodes and edges (e.g., <a>adjacency</a> or shortest paths). In contrast, normal<br>neural network embeddings typically represent individual data points (e.g., words or images) based on their features without<br>explicitly modeling relational structure, unless encoded in the data. The key difference lies in the focus on graph-specific<br>relationships in graph embeddings, while regular embeddings focus on feature-based similarity.</div>

<div class="t p" style="top:1960px">In 2014, Bryan Perozzi (Google Research) and colleagues Rami Al-Rfou and Steven Skiena (Stony Brook University) developed<br><a>DeepWalk</a>, the first practical method for combining graph data with neural networks. DeepWalk uses a neural network encoder to<br>convert graph data into a numeric representation (or <a><i>graph embedding</i></a>) that captures the similarities between graph objects in a<br>way that’s easy for neural networks to understand.</div>

<div class="t p" style="top:2072px">This revolutionized the field of graph analysis and kickstarted the recent flurry of study into graph learning.</div>

<div class="t cap" style="top:2517px">DeepWalk learns a representation that encodes graph information (source: <a>DeepWalk paper</a>).</div>

<div class="t h" style="top:2586px">Graph convolutional networks</div>

<div class="t p" style="top:2651px">In 2016, another fundamental leap forward came from Thomas Kipf’s (Google DeepMind) <a>thesis work at the University of</a><br><a>Amsterdam</a>. Kipf’s work introduced <a>graph convolutional networks</a> (GCNs), which can efficiently learn a <a>differentiable mapping over</a><br><a>graph structured data</a>, leading to better representations of graph data.</div>

<div class="t p" style="top:2739px">Differential mapping over graph data enables the learning of node and graph representations by applying differentiable operations<br>that aggregate information from neighbors while preserving the graph structure. This approach allows for end-to-end training,<br>capturing both local and global relationships, and scales well to large, dynamic graphs. It has provided a significant advantage in<br>graph learning by improving performance on tasks such as <a>node classification</a>, <a>link prediction</a>, and <a>graph-based recommendations</a>,<br>without the need for manual feature engineering.</div>

<div class="t cap" style="top:3331px">A graph convolution network transforms data over several layers of graph structure.</div>

<div class="t h" style="top:3399px">Message passing and graph neural networks</div>

<div class="t p" style="top:3465px">In 2017, Justin Gilmer’s work from Google DeepMind, along with colleagues Samuel S. Schoenholz, Patrick F. Riley, Oriol Vinyals, and<br>George E. Dahl, enabled graph learning models to compute more complicated functions over graph data in what’s known as<br><a>messaging passing</a>. They challenged themselves to build a model that could understand the properties of molecules based on their<br>structures. Through graph learning, their message passing network was able to predict the quantum properties of organic<br>molecules much faster than prior state-of-the-art methods. Since this study, an entire sub-area has emerged using graph learning<br>for <a>chemical</a> and <a>biological</a> applications.</div>

<div class="t cap" style="top:3968px">Message Passing Neural Networks use graphs of atom connectivity to infer molecular properties.</div>

<div class="t p" style="top:4036px">Gilmer’s body of work (and related research) led to the development of general <a>graph neural network architectures</a> that could<br>represent very flexible models. In 2018, Peter Battaglia (also of Google DeepMind) and colleagues developed the <a>GraphNet model</a>,<br>which was capable of additional feats, such as representing gravity in physics simulations. These graph models have been extended<br>with concepts like attention, which <a>DeepMind’s Petar Veličković’s added to GNNs in 2018</a>, allowing models to focus on the most<br>important parts of the input data.</div>

<div class="t h" style="top:4207px">The application era: Graph learning in the real<br>world</div>

<div class="t p" style="top:4329px">The entire evolution of graph learning has revolved around enabling better integrations for graph structured data for the sake of<br>improved graph mining. Today, graph learning is rapidly transforming various fields through its ability to model complex<br>relationships. In urban planning, it’s being used to <a>predict real-time traffic</a> and <a>analyze mobility patterns</a>. It's also being <a>used in</a><br><a>recommendation systems</a> to enhance personalization by leveraging social and knowledge graphs. Healthcare benefits from graph<br>learning in <a>drug discovery</a> and medical diagnosis, and finance uses it to <a>detect fraud and money laundering</a>.</div>

<div class="t p" style="top:4465px">The potential for graph learning is unending and a key part of tapping into that potential is knowledge-sharing. In this light, we’ve<br>released libraries in <a>TensorFlow</a> and <a>JAX</a> that provide tools for developers to build models over graph data and to customize their<br>models for processing on TPUs. We recently released <a>TensorFlow GNN 1.0</a> (TF-GNN), a production-tested library for building GNNs<br>at large scale that supports both modeling and training in TensorFlow as well as the extraction of input graphs from huge data<br>stores.</div>

<div class="t h" style="top:4635px">Looking forward</div>

<div class="t p" style="top:4701px">With the recent remarkable advancements in artificial intelligence one might ask <a>how can we best integrate graph structured data</a><br><a>with artificial intelligence (AI)</a> to allow for the encoding of graphs for large language models (LLMs)? Doing so would yield immense<br>potential for enhanced reasoning, knowledge representation, and contextual understanding, but also presents some challenges,<br>such as representing graphs in a format compatible with LLMs and dealing with large scale graph data. While GNNs offer powerful<br>graph processing capabilities, architectural differences and input modality mismatches have hindered their direct integration into<br>LLM frameworks. However, the promise of richer, more nuanced AI through combined graph and language processing drives<br>ongoing research to bridge this gap.</div>

<div class="t p" style="top:4885px">Ultimately, all of this work will lead to even more powerful understanding of relationships between objects, which will have powerful<br>implications for applications in biology, chemistry, and a wide variety of technology platforms.</div>

<div class="t lab" style="top:5021px">Labels:&nbsp; <a>Algorithms &amp; Theory</a> · <a>Machine Intelligence</a></div>
</div>
</body></html>
